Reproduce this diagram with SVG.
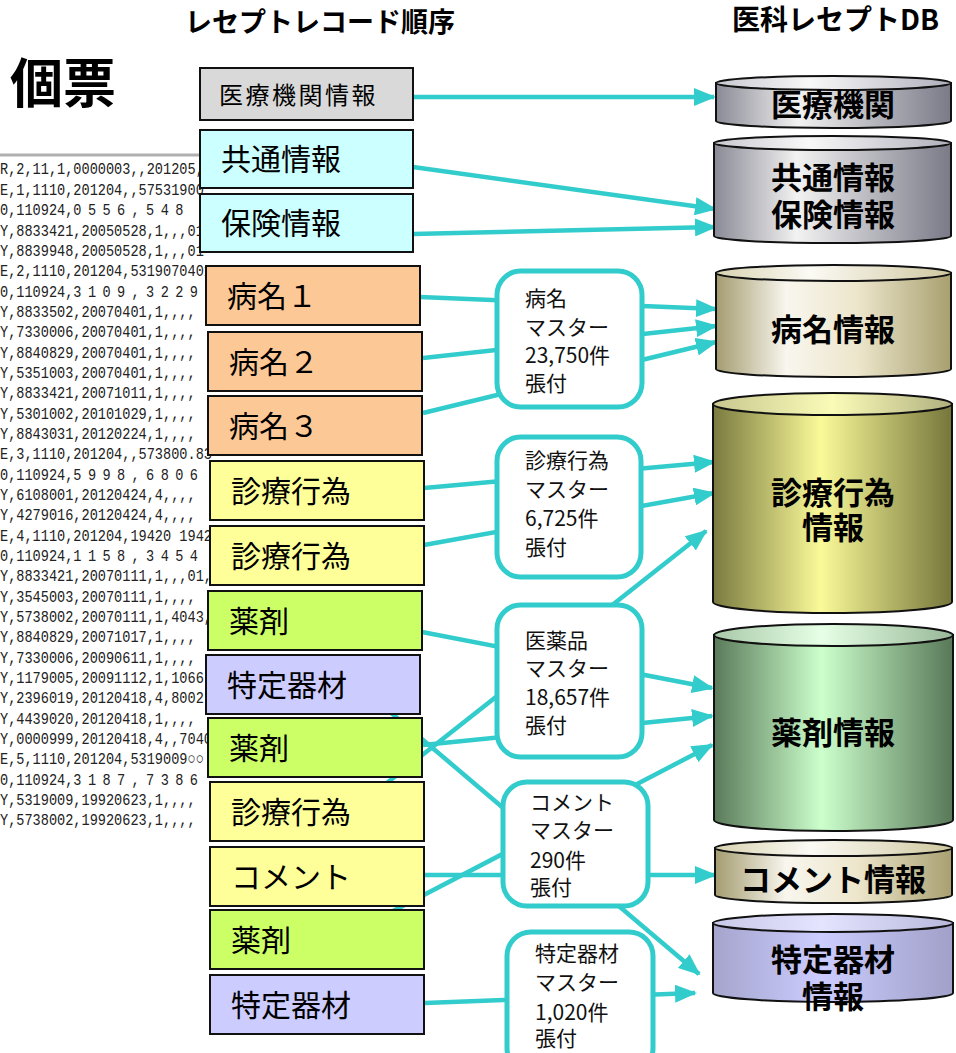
<svg xmlns="http://www.w3.org/2000/svg" width="956" height="1053" viewBox="0 0 956 1053">
<defs>
<style>
.title{font-family:"Noto Sans CJK JP","Noto Sans",sans-serif;font-weight:bold;fill:#000}
.rec{stroke:#111;stroke-width:2}
.rt{font-family:"Noto Sans CJK JP",sans-serif;font-size:30px;fill:#000}
.mb{fill:#fff;stroke:#33cccc;stroke-width:5}
.mt{font-family:"Noto Sans CJK JP",sans-serif;font-size:21px;fill:#111}
.cyl{stroke:#111;stroke-width:2}
.ct{font-family:"Noto Sans CJK JP",sans-serif;font-size:31px;font-weight:bold;fill:#000;text-anchor:middle}
.con{stroke:#33cccc;stroke-width:4.5;fill:none}
.data{font-family:"Liberation Mono",monospace;font-size:17px;fill:#222}
</style>
<marker id="ah" markerUnits="userSpaceOnUse" markerWidth="22" markerHeight="18" refX="20" refY="9" orient="auto">
<path d="M0,0 L22,9 L0,18 Z" fill="#33cccc"/>
</marker>
<linearGradient id="gGray" x1="0" x2="1" y1="0" y2="0">
<stop offset="0" stop-color="#8a8a96"/><stop offset="0.35" stop-color="#f2f2f2"/><stop offset="1" stop-color="#7a7a88"/>
</linearGradient>
<linearGradient id="gGrayT" x1="0" x2="1"><stop offset="0" stop-color="#c8c8d0"/><stop offset="0.4" stop-color="#f8f8f8"/><stop offset="1" stop-color="#b0b0bc"/></linearGradient>
<linearGradient id="gKhaki" x1="0" x2="1">
<stop offset="0" stop-color="#a49c70"/><stop offset="0.3" stop-color="#f8f6ee"/><stop offset="0.6" stop-color="#ede6cc"/><stop offset="1" stop-color="#a8a070"/>
</linearGradient>
<linearGradient id="gKhakiT" x1="0" x2="1"><stop offset="0" stop-color="#d8d2b0"/><stop offset="0.4" stop-color="#fbfaf4"/><stop offset="1" stop-color="#d0c8a0"/></linearGradient>
<linearGradient id="gYel" x1="0" x2="1">
<stop offset="0" stop-color="#7a7a40"/><stop offset="0.45" stop-color="#fafa99"/><stop offset="1" stop-color="#76763c"/>
</linearGradient>
<linearGradient id="gYelT" x1="0" x2="1"><stop offset="0" stop-color="#c8c890"/><stop offset="0.5" stop-color="#fbfbb8"/><stop offset="1" stop-color="#b0b080"/></linearGradient>
<linearGradient id="gGrn" x1="0" x2="1">
<stop offset="0" stop-color="#5a7a5a"/><stop offset="0.45" stop-color="#ccffcc"/><stop offset="1" stop-color="#587858"/>
</linearGradient>
<linearGradient id="gGrnT" x1="0" x2="1"><stop offset="0" stop-color="#a8c8a8"/><stop offset="0.45" stop-color="#e6ffe6"/><stop offset="1" stop-color="#98b898"/></linearGradient>
<linearGradient id="gPur" x1="0" x2="1">
<stop offset="0" stop-color="#a4a4cc"/><stop offset="0.45" stop-color="#ccccff"/><stop offset="1" stop-color="#a0a0c8"/>
</linearGradient>
<linearGradient id="gPurT" x1="0" x2="1"><stop offset="0" stop-color="#c8c8e8"/><stop offset="0.45" stop-color="#e4e4ff"/><stop offset="1" stop-color="#b8b8dc"/></linearGradient>
<clipPath id="clipData"><rect x="0" y="150" width="212" height="690"/></clipPath>
</defs>
<rect width="956" height="1053" fill="#fff"/>

<text class="title" x="185" y="32" style="font-size:27px">レセプトレコード順序</text>
<text class="title" x="732" y="30" style="font-size:28px">医科レセプトDB</text>
<text class="title" x="10" y="103" style="font-size:53px">個票</text>

<g id="recorddata">
<line x1="0" y1="155" x2="210" y2="155" stroke="#b0b0b0" stroke-width="3"/>
<g clip-path="url(#clipData)">
<g transform="scale(0.8,1)" class="data">
<text x="0" y="174">R,2,11,1,0000003,,201205,</text>
<text x="0" y="195">E,1,1110,201204,,57531900</text>
<text x="0" y="215">0,110924,<tspan letter-spacing="8">0556,548</tspan></text>
<text x="0" y="236">Y,8833421,20050528,1,,,01</text>
<text x="0" y="256">Y,8839948,20050528,1,,,01</text>
<text x="0" y="276">E,2,1110,201204,5319070401</text>
<text x="0" y="297">0,110924,<tspan letter-spacing="8">3109,3229</tspan></text>
<text x="0" y="317">Y,8833502,20070401,1,,,,</text>
<text x="0" y="337">Y,7330006,20070401,1,,,,</text>
<text x="0" y="358">Y,8840829,20070401,1,,,,</text>
<text x="0" y="378">Y,5351003,20070401,1,,,,</text>
<text x="0" y="398">Y,8833421,20071011,1,,,,</text>
<text x="0" y="419">Y,5301002,20101029,1,,,,</text>
<text x="0" y="439">Y,8843031,20120224,1,,,,</text>
<text x="0" y="459">E,3,1110,201204,,573800.83</text>
<text x="0" y="480">0,110924,<tspan letter-spacing="8">5998,6806</tspan></text>
<text x="0" y="500">Y,6108001,20120424,4,,,,</text>
<text x="0" y="520">Y,4279016,20120424,4,,,,</text>
<text x="0" y="541">E,4,1110,201204,19420 19420</text>
<text x="0" y="561">0,110924,<tspan letter-spacing="8">1158,3454</tspan></text>
<text x="0" y="581">Y,8833421,20070111,1,,,01,</text>
<text x="0" y="602">Y,3545003,20070111,1,,,,</text>
<text x="0" y="622">Y,5738002,20070111,1,4043,</text>
<text x="0" y="642">Y,8840829,20071017,1,,,,</text>
<text x="0" y="663">Y,7330006,20090611,1,,,,</text>
<text x="0" y="683">Y,1179005,20091112,1,1066</text>
<text x="0" y="703">Y,2396019,20120418,4,8002</text>
<text x="0" y="724">Y,4439020,20120418,1,,,,</text>
<text x="0" y="744">Y,0000999,20120418,4,,7040</text>
<text x="0" y="764">E,5,1110,201204,5319009○○</text>
<text x="0" y="785">0,110924,<tspan letter-spacing="8">3187,7386</tspan></text>
<text x="0" y="805">Y,5319009,19920623,1,,,,</text>
<text x="0" y="825">Y,5738002,19920623,1,,,,</text>
</g>
</g>
</g>

<g id="connectors">
<line class="con" x1="413" y1="97" x2="714" y2="97" marker-end="url(#ah)"/>
<line class="con" x1="413" y1="167" x2="715" y2="209" marker-end="url(#ah)"/>
<line class="con" x1="413" y1="234" x2="715" y2="227" marker-end="url(#ah)"/>
<line class="con" x1="420" y1="297" x2="716" y2="309" marker-end="url(#ah)"/>
<line class="con" x1="423" y1="358" x2="716" y2="326" marker-end="url(#ah)"/>
<line class="con" x1="423" y1="413" x2="716" y2="342" marker-end="url(#ah)"/>
<line class="con" x1="424" y1="488" x2="714" y2="462" marker-end="url(#ah)"/>
<line class="con" x1="424" y1="545" x2="714" y2="493" marker-end="url(#ah)"/>
<line class="con" x1="340" y1="820" x2="706" y2="531" marker-end="url(#ah)"/>
<line class="con" x1="422" y1="632" x2="712" y2="688" marker-end="url(#ah)"/>
<line class="con" x1="423" y1="745" x2="712" y2="716" marker-end="url(#ah)"/>
<line class="con" x1="350" y1="678" x2="699" y2="974" marker-end="url(#ah)"/>
<line class="con" x1="320" y1="949" x2="712" y2="745" marker-end="url(#ah)"/>
<line class="con" x1="424" y1="875" x2="715" y2="875" marker-end="url(#ah)"/>
<line class="con" x1="425" y1="1003" x2="695" y2="993" marker-end="url(#ah)"/>
</g>

<g id="rec-iryokikan"><rect class="rec" x="200" y="68" width="213" height="52" fill="#d9d9d9"/><text class="rt" x="219" y="104" style="font-size:24px;letter-spacing:2.5px">医療機関情報</text></g>
<g id="rec-kyotsu"><rect class="rec" x="200" y="130" width="213" height="58" fill="#ccffff"/><text class="rt" x="221" y="170">共通情報</text></g>
<g id="rec-hoken"><rect class="rec" x="200" y="194" width="213" height="58" fill="#ccffff"/><text class="rt" x="221" y="234">保険情報</text></g>
<g id="rec-byomei1"><rect class="rec" x="206" y="266" width="214" height="59" fill="#fcc896"/><text class="rt" x="227" y="307">病名１</text></g>
<g id="rec-byomei2"><rect class="rec" x="208" y="332" width="214" height="59" fill="#fcc896"/><text class="rt" x="229" y="373">病名２</text></g>
<g id="rec-byomei3"><rect class="rec" x="208" y="396" width="214" height="59" fill="#fcc896"/><text class="rt" x="229" y="437">病名３</text></g>
<g id="rec-shinryo1"><rect class="rec" x="210" y="461" width="214" height="59" fill="#ffff99"/><text class="rt" x="231" y="502">診療行為</text></g>
<g id="rec-shinryo2"><rect class="rec" x="210" y="526" width="214" height="59" fill="#ffff99"/><text class="rt" x="231" y="567">診療行為</text></g>
<g id="rec-yakuzai1"><rect class="rec" x="208" y="591" width="214" height="59" fill="#ccff66"/><text class="rt" x="229" y="632">薬剤</text></g>
<g id="rec-tokutei1"><rect class="rec" x="206" y="655" width="214" height="59" fill="#ccccff"/><text class="rt" x="227" y="696">特定器材</text></g>
<g id="rec-yakuzai2"><rect class="rec" x="208" y="718" width="214" height="59" fill="#ccff66"/><text class="rt" x="229" y="759">薬剤</text></g>
<g id="rec-shinryo3"><rect class="rec" x="210" y="782" width="214" height="59" fill="#ffff99"/><text class="rt" x="231" y="823">診療行為</text></g>
<g id="rec-comment"><rect class="rec" x="210" y="847" width="214" height="59" fill="#ffff99"/><text class="rt" x="231" y="888">コメント</text></g>
<g id="rec-yakuzai3"><rect class="rec" x="210" y="910" width="214" height="59" fill="#ccff66"/><text class="rt" x="231" y="951">薬剤</text></g>
<g id="rec-tokutei2"><rect class="rec" x="210" y="975" width="214" height="59" fill="#ccccff"/><text class="rt" x="231" y="1016">特定器材</text></g>

<g id="master-byomei"><rect class="mb" x="497" y="271" width="145" height="136" rx="24"/>
<text class="mt" x="525" y="306">病名</text><text class="mt" x="525" y="335">マスター</text><text class="mt" x="525" y="363">23,750件</text><text class="mt" x="525" y="391">張付</text></g>
<g id="master-shinryo"><rect class="mb" x="497" y="437" width="144" height="140" rx="24"/>
<text class="mt" x="525" y="468">診療行為</text><text class="mt" x="525" y="497">マスター</text><text class="mt" x="525" y="526">6,725件</text><text class="mt" x="525" y="555">張付</text></g>
<g id="master-iyakuhin"><rect class="mb" x="497" y="605" width="145" height="152" rx="24"/>
<text class="mt" x="525" y="648">医薬品</text><text class="mt" x="525" y="676">マスター</text><text class="mt" x="525" y="705">18,657件</text><text class="mt" x="525" y="733">張付</text></g>
<g id="master-comment"><rect class="mb" x="503" y="782" width="145" height="124" rx="24"/>
<text class="mt" x="530" y="810">コメント</text><text class="mt" x="530" y="838">マスター</text><text class="mt" x="530" y="868">290件</text><text class="mt" x="530" y="895">張付</text></g>
<g id="master-tokutei"><rect class="mb" x="507" y="932" width="146" height="140" rx="24"/>
<text class="mt" x="535" y="961">特定器材</text><text class="mt" x="535" y="990">マスター</text><text class="mt" x="535" y="1020">1,020件</text><text class="mt" x="535" y="1046">張付</text></g>

<g id="db-iryokikan">
<path class="cyl" fill="url(#gGray)" d="M716,83 L716,121 A117.5,7 0 0 0 951,121 L951,83 Z"/>
<ellipse class="cyl" cx="833.5" cy="83" rx="117.5" ry="7" fill="url(#gGrayT)"/>
<text class="ct" x="833" y="116">医療機関</text></g>
<g id="db-kyotsu">
<path class="cyl" fill="url(#gGray)" d="M714,143 L714,236 A118.5,7 0 0 0 951,236 L951,143 Z"/>
<ellipse class="cyl" cx="832.5" cy="143" rx="118.5" ry="7" fill="url(#gGrayT)"/>
<text class="ct" x="833" y="189">共通情報</text><text class="ct" x="833" y="226">保険情報</text></g>
<g id="db-byomei">
<path class="cyl" fill="url(#gKhaki)" d="M716,273 L716,369 A117.5,8 0 0 0 951,369 L951,273 Z"/>
<ellipse class="cyl" cx="833.5" cy="273" rx="117.5" ry="8" fill="url(#gKhakiT)"/>
<text class="ct" x="833" y="341">病名情報</text></g>
<g id="db-shinryo">
<path class="cyl" fill="url(#gYel)" d="M713,404 L713,602 A119.5,11 0 0 0 952,602 L952,404 Z"/>
<ellipse class="cyl" cx="832.5" cy="404" rx="119.5" ry="11" fill="url(#gYelT)"/>
<text class="ct" x="833" y="504">診療行為</text><text class="ct" x="833" y="539">情報</text></g>
<g id="db-yakuzai">
<path class="cyl" fill="url(#gGrn)" d="M714,635 L714,820 A119.5,11 0 0 0 953,820 L953,635 Z"/>
<ellipse class="cyl" cx="833.5" cy="635" rx="119.5" ry="11" fill="url(#gGrnT)"/>
<text class="ct" x="833" y="744">薬剤情報</text></g>
<g id="db-comment">
<path class="cyl" fill="url(#gKhaki)" d="M715,848 L715,895 A118.5,8 0 0 0 952,895 L952,848 Z"/>
<ellipse class="cyl" cx="833.5" cy="848" rx="118.5" ry="8" fill="url(#gKhakiT)"/>
<text class="ct" x="833" y="891">コメント情報</text></g>
<g id="db-tokutei">
<path class="cyl" fill="url(#gPur)" d="M713,923 L713,993 A120,9 0 0 0 953,993 L953,923 Z"/>
<ellipse class="cyl" cx="833" cy="923" rx="120" ry="9" fill="url(#gPurT)"/>
<text class="ct" x="833" y="971">特定器材</text><text class="ct" x="833" y="1008">情報</text></g>
</svg>
